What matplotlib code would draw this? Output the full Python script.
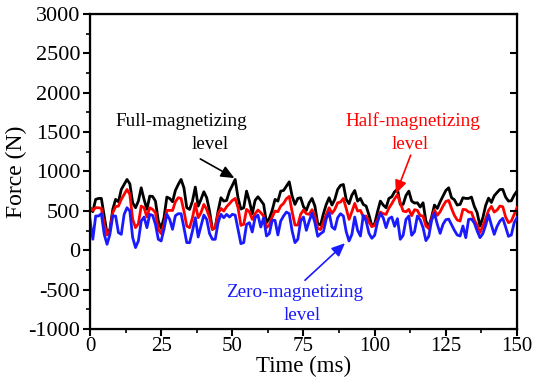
import matplotlib
matplotlib.use("Agg")
import matplotlib.pyplot as plt
from matplotlib.ticker import MultipleLocator

plt.rcParams['font.family'] = ['Liberation Serif', 'DejaVu Serif']
plt.rcParams['axes.unicode_minus'] = False

# waktu (ms), satu sampel tiap 1 ms
time_ms = list(range(0, 151))

# Full-magnetizing level (N)
full_level = [
    540, 490, 646, 658, 658, 435, 211, 266, 519, 646,
    616, 772, 835, 899, 844, 603, 540, 624, 793, 646,
    519, 688, 683, 624, 371, 278, 413, 675, 658, 616,
    759, 835, 899, 793, 540, 519, 624, 802, 561, 646,
    743, 667, 498, 266, 287, 498, 667, 624, 633, 751,
    823, 899, 667, 523, 540, 751, 624, 464, 633, 679,
    633, 582, 350, 405, 506, 646, 624, 751, 759, 814,
    869, 688, 582, 658, 667, 553, 506, 603, 658, 561,
    337, 320, 464, 582, 667, 574, 646, 772, 823, 835,
    646, 591, 700, 759, 624, 658, 582, 561, 447, 308,
    337, 489, 624, 574, 540, 658, 679, 743, 776, 582,
    582, 696, 751, 624, 599, 603, 549, 603, 371, 295,
    422, 574, 531, 616, 688, 759, 793, 667, 641, 574,
    582, 667, 658, 658, 675, 557, 477, 308, 413, 570,
    662, 607, 692, 734, 772, 772, 675, 624, 628, 700,
    751,
]

# Half-magnetizing level (N)
half_level = [
    540, 506, 540, 540, 531, 329, 194, 245, 477, 553,
    561, 646, 709, 772, 709, 392, 287, 337, 561, 540,
    422, 540, 519, 477, 266, 211, 329, 506, 506, 506,
    616, 667, 658, 498, 308, 287, 413, 591, 413, 477,
    582, 519, 413, 266, 287, 464, 531, 498, 553, 591,
    633, 658, 540, 316, 329, 519, 489, 392, 464, 511,
    477, 435, 287, 320, 422, 498, 489, 561, 595, 654,
    684, 489, 320, 320, 456, 511, 464, 456, 515, 435,
    278, 262, 354, 456, 540, 468, 519, 603, 612, 658,
    531, 392, 489, 595, 498, 506, 426, 435, 359, 299,
    316, 388, 485, 464, 456, 536, 591, 654, 705, 603,
    498, 489, 519, 439, 515, 506, 439, 435, 308, 274,
    401, 511, 443, 489, 561, 620, 633, 531, 443, 384,
    371, 519, 515, 485, 481, 384, 316, 224, 308, 401,
    506, 557, 485, 511, 561, 553, 422, 350, 371, 456,
    540,
]

# Zero-magnetizing level (N)
zero_level = [
    390, 140, 435, 435, 464, 202, 76, 202, 435, 435,
    224, 202, 456, 540, 498, 160, 34, 118, 371, 422,
    287, 456, 443, 329, 139, 118, 266, 456, 392, 266,
    439, 464, 464, 287, 97, 97, 245, 413, 169, 308,
    447, 392, 211, 139, 139, 350, 456, 413, 456, 422,
    456, 447, 266, 84, 97, 329, 350, 232, 413, 447,
    295, 413, 181, 211, 380, 380, 194, 371, 435, 485,
    464, 245, 97, 139, 371, 422, 253, 371, 472, 350,
    177, 211, 236, 401, 477, 295, 266, 413, 464, 435,
    236, 118, 202, 422, 253, 181, 443, 371, 215, 152,
    190, 359, 468, 413, 287, 401, 422, 304, 401, 139,
    190, 392, 435, 190, 236, 435, 384, 287, 122, 177,
    380, 472, 329, 215, 329, 388, 396, 325, 253, 194,
    181, 308, 160, 392, 396, 346, 245, 160, 211, 320,
    451, 320, 202, 304, 371, 405, 295, 177, 194, 350,
    413,
]

blue_c = '#1a1aff'

fig = plt.figure(figsize=(5.44, 3.79), dpi=100)
ax = fig.add_axes([0.1654, 0.1319, 0.785, 0.8312])

ax.plot(time_ms, full_level, color='black', lw=2.0, zorder=3)
ax.plot(time_ms, half_level, color='red', lw=2.0, zorder=4)
ax.plot(time_ms, zero_level, color=blue_c, lw=2.0, zorder=5)

ax.set_xlim(0, 150)
ax.set_ylim(-1000, 3000)
ax.xaxis.set_major_locator(MultipleLocator(25))
ax.xaxis.set_minor_locator(MultipleLocator(12.5))
ax.yaxis.set_major_locator(MultipleLocator(500))
ax.yaxis.set_minor_locator(MultipleLocator(250))
ax.tick_params(which='major', direction='out', length=5, width=1.5, pad=2)
ax.tick_params(axis='y', labelsize=16)
ax.tick_params(axis='x', labelsize=15, pad=1)
ax.tick_params(which='minor', direction='out', length=3, width=1.2)
for s in ax.spines.values():
    s.set_linewidth(1.6)

# tick di sisi kanan mengarah ke dalam
ax2 = ax.twinx()
ax2.set_ylim(-1000, 3000)
ax2.yaxis.set_major_locator(MultipleLocator(500))
ax2.tick_params(axis='y', direction='in', length=5, width=1.5, labelright=False)

ax.set_xlabel('Time (ms)', fontsize=16.5, labelpad=0)
ax.set_ylabel('Force (N)', fontsize=17, labelpad=1)

tfs = 13.8
ax.text(32, 1633, 'Full-magnetizing', color='black', fontsize=tfs, ha='center', va='center')
ax.text(42.1, 1342, 'level', color='black', fontsize=tfs, ha='center', va='center')
ax.annotate('', xy=(51.6, 899), xytext=(37.9, 1177),
            arrowprops=dict(arrowstyle='-|>,head_length=0.8,head_width=0.35', color='black', lw=1.2))

ax.text(113.5, 1646, 'Half-magnetizing', color='red', fontsize=tfs, ha='center', va='center')
ax.text(112.4, 1342, 'level', color='red', fontsize=tfs, ha='center', va='center')
ax.annotate('', xy=(107.1, 684), xytext=(113, 1240),
            arrowprops=dict(arrowstyle='-|>,head_length=0.8,head_width=0.35', color='red', lw=1.2))

ax.text(72, -532, 'Zero-magnetizing', color=blue_c, fontsize=tfs, ha='center', va='center')
ax.text(74.5, -823, 'level', color=blue_c, fontsize=tfs, ha='center', va='center')
ax.annotate('', xy=(90.3, 114), xytext=(74.8, -405),
            arrowprops=dict(arrowstyle='-|>,head_length=0.8,head_width=0.35', color=blue_c, lw=1.2))

fig.savefig('out.png', dpi=100)
